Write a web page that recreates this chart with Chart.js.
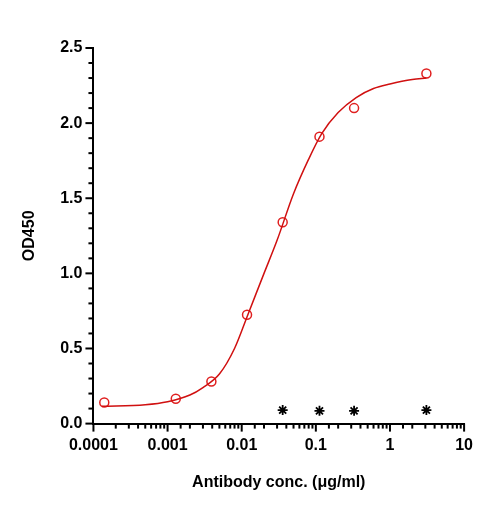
<!DOCTYPE html>
<html>
<head>
<meta charset="utf-8">
<script src="https://cdn.jsdelivr.net/npm/chart.js@4"></script>
<style>
  body { margin: 0; background: #fff; }
  #wrap { width: 485px; height: 508px; }
</style>
</head>
<body>
<div id="wrap"><canvas id="odChart"></canvas></div>
<script>
// 測定点（赤丸）
let concs = [0.00014, 0.00129, 0.0039, 0.0118, 0.0357, 0.112, 0.328, 3.1];
let odValues = [0.14, 0.165, 0.28, 0.725, 1.34, 1.91, 2.10, 2.33];

// ネガティブ（黒の星印）
let negConcs = [0.0357, 0.112, 0.328, 3.1];
let negValues = [0.09, 0.085, 0.085, 0.09];

// フィット曲線
let curveConcs = [0.00013, 0.0005, 0.001, 0.002, 0.003, 0.005, 0.008, 0.012, 0.02, 0.03, 0.05, 0.08, 0.12, 0.2, 0.35, 0.6, 1, 2, 3.1];
let curveValues = [0.115, 0.125, 0.145, 0.19, 0.24, 0.33, 0.5, 0.72, 1.0, 1.22, 1.53, 1.76, 1.93, 2.07, 2.17, 2.23, 2.26, 2.29, 2.3];

let xTickLabels = [0.0001, 0.001, 0.01, 0.1, 1, 10];

const toXY = (xs, ys) => xs.map((x, i) => ({ x: x, y: ys[i] }));

// 目盛り線を描くプラグイン（大小の目盛り）
const tickMarks = {
    id: 'tickMarks',
    afterDraw(chart) {
        const c = chart.ctx;
        const xs = chart.scales.x, ys = chart.scales.y;
        c.save();
        c.strokeStyle = '#000';
        c.lineWidth = 2;
        xs.ticks.forEach(t => {
            const px = xs.getPixelForValue(t.value);
            const major = xTickLabels.some(v => Math.abs(v - t.value) / v < 1e-6);
            c.beginPath();
            c.moveTo(px, ys.bottom);
            c.lineTo(px, ys.bottom + (major ? 8 : 5));
            c.stroke();
        });
        ys.ticks.forEach(t => {
            const py = ys.getPixelForValue(t.value);
            const major = Math.abs(t.value * 2 - Math.round(t.value * 2)) < 1e-6;
            c.beginPath();
            c.moveTo(xs.left, py);
            c.lineTo(xs.left - (major ? 8 : 5), py);
            c.stroke();
        });
        c.restore();
    }
};

const font = { family: 'Liberation Sans', size: 16, weight: 'bold' };
const titleFont = { family: 'Liberation Sans', size: 16, weight: 'bold' };

new Chart(document.getElementById('odChart').getContext('2d'), {
    type: 'scatter',
    data: {
        datasets: [
            {
                data: toXY(curveConcs, curveValues),
                showLine: true,
                borderColor: '#d01010',
                borderWidth: 1.5,
                pointRadius: 0,
                tension: 0.4,
                cubicInterpolationMode: 'monotone'
            },
            {
                data: toXY(concs, odValues),
                borderColor: '#e02020',
                backgroundColor: 'rgba(0,0,0,0)',
                borderWidth: 1.5,
                pointRadius: 4.5
            },
            {
                data: toXY(negConcs, negValues),
                pointStyle: 'star',
                borderColor: '#000',
                borderWidth: 1.8,
                pointRadius: 5
            }
        ]
    },
    options: {
        responsive: true,
        maintainAspectRatio: false,
        animation: false,
        layout: { padding: { top: 48, right: 20, bottom: 12, left: 16 } },
        plugins: { legend: { display: false }, tooltip: { enabled: false } },
        scales: {
            x: {
                type: 'logarithmic',
                min: 0.0001,
                max: 10,
                border: { color: '#000', width: 2 },
                grid: { display: false, drawTicks: false },
                ticks: {
                    color: '#000',
                    font: font,
                    padding: 12,
                    autoSkip: false,
                    maxRotation: 0,
                    callback: v => xTickLabels.some(t => Math.abs(t - v) / t < 1e-6) ? String(v) : ''
                },
                title: { display: true, text: 'Antibody conc. (μg/ml)', color: '#000', font: titleFont, padding: { top: 6 } }
            },
            y: {
                min: 0,
                max: 2.5,
                border: { color: '#000', width: 2 },
                grid: { display: false, drawTicks: false },
                ticks: {
                    color: '#000',
                    font: font,
                    padding: 11,
                    stepSize: 0.1,
                    autoSkip: false,
                    callback: v => Math.abs(v * 2 - Math.round(v * 2)) < 1e-6 ? v.toFixed(1) : ''
                },
                title: { display: true, text: 'OD450', color: '#000', font: titleFont, padding: { bottom: 10 } }
            }
        }
    },
    plugins: [tickMarks]
});
</script>
</body>
</html>
